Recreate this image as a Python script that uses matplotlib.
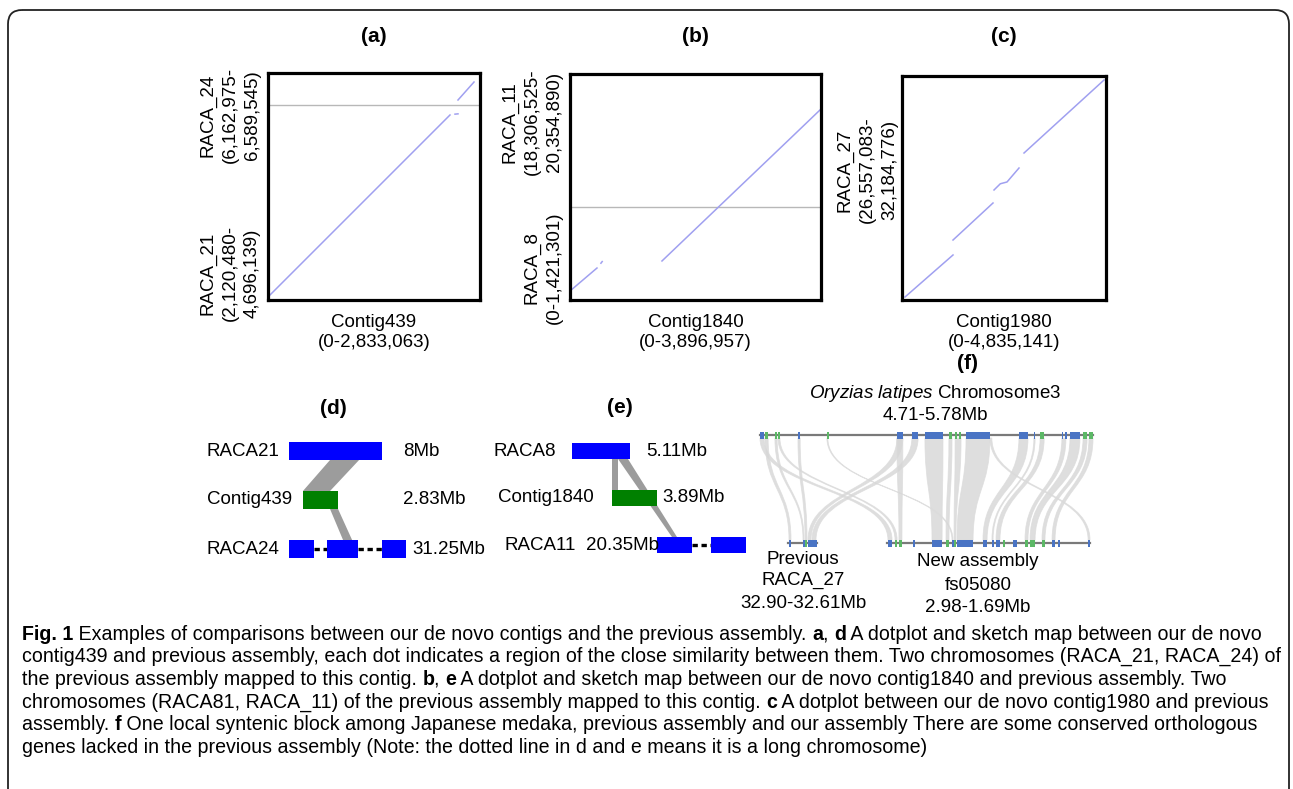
import numpy as np
import matplotlib
matplotlib.use('Agg')
import matplotlib.pyplot as plt
from matplotlib.patches import FancyBboxPatch, Rectangle, Polygon, PathPatch
from matplotlib.path import Path

plt.rcParams['font.family'] = ['Liberation Sans', 'DejaVu Sans']
plt.rcParams['mathtext.fontset'] = 'custom'
plt.rcParams['mathtext.rm'] = 'Liberation Sans'
plt.rcParams['mathtext.it'] = 'Liberation Sans:italic'
plt.rcParams['mathtext.bf'] = 'Liberation Sans:bold'

W, H = 1293, 789
FS = 13.5
FS_TITLE = 15

# ---------------- dotplot data (bp) ----------------
# (a) contig439 vs RACA_21 + RACA_24
a_contig = ('Contig439', 2833063)
a_chroms = ['RACA_21', 'RACA_24']
a_spans = [(2120480, 4696139), (6162975, 6589545)]
a_segs = [([0, 2432000], [40000, 2447000]),
          ([2499000, 2539000], [2458000, 2462000]),
          ([2539000, 2753000], [2645000, 2883000])]

# (b) contig1840 vs RACA_8 + RACA_11
b_contig = ('Contig1840', 3896957)
b_chroms = ['RACA_8', 'RACA_11']
b_spans = [(0, 1421301), (18306525, 20354890)]
b_segs = [([0, 419000], [138000, 491000]),
          ([480000, 500000], [565000, 590000]),
          ([1428000, 3420000, 3881000], [599000, 2480000, 2917000])]

# (c) contig1980 vs RACA_27
c_contig = ('Contig1980', 4835141)
c_chroms = ['RACA_27']
c_spans = [(26557083, 32184776)]
c_segs = [([71000, 1209000], [75000, 1131000]),
          ([1209000, 2157000], [1507000, 2437000]),
          ([2181000, 2330000, 2489000, 2773000], [2764000, 2920000, 2965000, 3316000]),
          ([2892000, 4788000], [3693000, 5527000])]

# ---------------- sketch maps (Mb, schematic) ----------------
d_rows = ['RACA21', 'Contig439', 'RACA24']
d_sizes = ['8Mb', '2.83Mb', '31.25Mb']
d_blocks = [[(0, 8.0)], [(1.2, 4.2)], [(0, 2.15), (3.27, 5.95), (8.0, 10.1)]]
d_links = [((3.53, 6.03), 0, (1.2, 3.53), 1),
           ((3.53, 4.22), 1, (4.65, 5.43), 2)]

e_rows = ['RACA8', 'Contig1840', 'RACA11']
e_sizes = ['5.11Mb', '3.89Mb', '20.35Mb']
e_blocks = [[(0, 5.11)], [(3.51, 7.46)], [(7.46, 10.5), (12.2, 15.3)]]
e_links = [((3.51, 4.04), 0, (3.51, 4.04), 1),
           ((4.04, 4.91), 0, (8.77, 9.21), 2)]

# ---------------- synteny block (f) ----------------
f_ranges = {'top': (4.71, 5.78), 'prev': (32.90, 32.61), 'new': (2.98, 1.69)}
# genes: (start, end, kind) kind 0 = blue, 1 = green
f_top_genes = [(4.710, 4.723, 0), (4.726, 4.736, 1), (4.758, 4.765, 1), (4.768, 4.774, 1),
               (4.832, 4.839, 0), (4.925, 4.928, 1), (5.150, 5.169, 0), (5.198, 5.218, 0),
               (5.240, 5.298, 0), (5.317, 5.327, 1), (5.337, 5.340, 1), (5.349, 5.356, 1),
               (5.372, 5.449, 0), (5.542, 5.571, 0), (5.590, 5.594, 0), (5.610, 5.623, 1),
               (5.680, 5.684, 0), (5.690, 5.693, 0), (5.706, 5.738, 0), (5.748, 5.761, 1),
               (5.767, 5.780, 1)]
f_prev_genes = [(32.89, 32.87, 0), (32.75, 32.74, 0), (32.73, 32.71, 1),
                (32.70, 32.67, 0), (32.67, 32.61, 0)]
f_new_genes = [(2.974, 2.948, 0), (2.929, 2.916, 1), (2.904, 2.885, 1), (2.815, 2.808, 0),
               (2.694, 2.630, 0), (2.605, 2.586, 1), (2.567, 2.561, 0), (2.554, 2.542, 1),
               (2.535, 2.433, 0), (2.370, 2.344, 0), (2.313, 2.306, 0), (2.287, 2.262, 0),
               (2.243, 2.236, 1), (2.179, 2.173, 0), (2.167, 2.160, 0), (2.103, 2.084, 1),
               (2.071, 2.039, 1), (1.995, 1.976, 1), (1.931, 1.912, 0), (1.893, 1.887, 0),
               (1.702, 1.690, 0)]
f_links = [(5.240, 5.298, 'new', 2.694, 2.630), (5.372, 5.449, 'new', 2.535, 2.433),
           (4.710, 4.723, 'new', 2.974, 2.948), (4.726, 4.736, 'prev', 32.89, 32.87),
           (4.758, 4.765, 'prev', 32.75, 32.74), (4.768, 4.774, 'new', 2.929, 2.916),
           (4.832, 4.839, 'prev', 32.73, 32.71), (4.925, 4.928, 'new', 2.567, 2.561),
           (5.150, 5.169, 'prev', 32.70, 32.67), (5.198, 5.218, 'prev', 32.66, 32.62),
           (5.150, 5.169, 'new', 2.904, 2.885), (5.317, 5.327, 'new', 2.605, 2.586),
           (5.337, 5.356, 'new', 2.554, 2.542), (5.542, 5.571, 'new', 2.370, 2.344),
           (5.590, 5.594, 'new', 2.313, 2.306), (5.610, 5.623, 'new', 2.287, 2.262),
           (5.680, 5.693, 'new', 2.103, 2.084), (5.706, 5.738, 'new', 2.071, 2.039),
           (5.748, 5.761, 'new', 1.995, 1.976), (5.767, 5.780, 'new', 1.931, 1.912),
           (5.449, 5.455, 'new', 1.702, 1.690)]

# ** marks bold pieces
caption = [
    "**Fig. 1** Examples of comparisons between our de novo contigs and the previous assembly. **a**, **d** A dotplot and sketch map between our de novo",
    "contig439 and previous assembly, each dot indicates a region of the close similarity between them. Two chromosomes (RACA_21, RACA_24) of",
    "the previous assembly mapped to this contig. **b**, **e** A dotplot and sketch map between our de novo contig1840 and previous assembly. Two",
    "chromosomes (RACA81, RACA_11) of the previous assembly mapped to this contig. **c** A dotplot between our de novo contig1980 and previous",
    "assembly. **f** One local syntenic block among Japanese medaka, previous assembly and our assembly There are some conserved orthologous",
    "genes lacked in the previous assembly (Note: the dotted line in d and e means it is a long chromosome)",
]

BLUE, GREEN = '#0000ff', '#008000'
F_COL = ['#4a74c4', '#5cb866']

fig = plt.figure(figsize=(W / 100, H / 100), dpi=100)
bg = fig.add_axes([0, 0, 1, 1])
bg.set_xlim(0, W)
bg.set_ylim(H, 0)
bg.axis('off')


def px_axes(x0, y0, x1, y1):
    return fig.add_axes([x0 / W, 1 - y1 / H, (x1 - x0) / W, (y1 - y0) / H])


# outer frame
bg.add_patch(FancyBboxPatch((8, 10), 1281, 820, boxstyle='round,pad=0,rounding_size=14',
                            fc='none', ec='#222222', lw=1.3))


def fmt(n):
    return f'{n:,}'


def dotplot(box, contig, spans, segs):
    ax = px_axes(*box)
    lens = [e - s for s, e in spans]
    ax.set_xlim(0, contig[1])
    ax.set_ylim(0, sum(lens))
    for b in np.cumsum(lens)[:-1]:
        ax.axhline(b, color='#b8b8b8', lw=1)
    for xs, ys in segs:
        ax.plot(xs, ys, color='#a0a0f0', lw=1.1)
    ax.set_xticks([])
    ax.set_yticks([])
    for s in ax.spines.values():
        s.set_linewidth(2.3)
    return ax


dot_panels = [('(a)', (268, 73, 480, 300), a_contig, a_chroms, a_spans, a_segs, 261, [273, 115]),
              ('(b)', (570, 74, 821, 300), b_contig, b_chroms, b_spans, b_segs, 563, [268, 122]),
              ('(c)', (902, 76, 1106, 300), c_contig, c_chroms, c_spans, c_segs, 898, [170])]
for title, box, contig, chroms, spans, segs, lab_x, lab_y in dot_panels:
    dotplot(box, contig, spans, segs)
    cx = (box[0] + box[2]) / 2
    bg.text(cx, 36, title, ha='center', va='center', fontsize=FS_TITLE, fontweight='bold')
    bg.text(cx, 322, contig[0], ha='center', va='center', fontsize=FS)
    bg.text(cx, 342, f'(0-{fmt(contig[1])})', ha='center', va='center', fontsize=FS)
    for name, (s, e), yy in zip(chroms, spans, lab_y):
        if s == 0:
            lab = f'{name}\n({s}-{fmt(e)})'
        else:
            lab = f'{name}\n({fmt(s)}-\n{fmt(e)})'
        bg.text(lab_x, yy, lab, rotation=90, ha='right', va='center', multialignment='center',
                fontsize=FS, linespacing=1.4)


def sketch(box, xmax, rows, sizes, blocks, links, bar_h, name_x, size_x, title, title_xy):
    ax = px_axes(*box)
    ax.set_xlim(0, xmax)
    ax.set_ylim(2.5, -0.5)
    ax.axis('off')
    ax.patch.set_alpha(0)
    for (a0, a1), r1, (b0, b1), r2 in links:
        ax.add_patch(Polygon([(a0, r1 + bar_h / 2), (a1, r1 + bar_h / 2),
                              (b1, r2 - bar_h / 2), (b0, r2 - bar_h / 2)],
                             closed=True, fc='#9c9c9c', ec='none', zorder=1))
    for r, blk in enumerate(blocks):
        col = GREEN if r == 1 else BLUE
        for i, (s, e) in enumerate(blk):
            ax.add_patch(Rectangle((s, r - bar_h / 2), e - s, bar_h, fc=col, ec='none', zorder=3))
            if i > 0:
                ax.plot([blk[i - 1][1], s], [r, r], color='black', lw=2.4,
                        ls=(0, (1.6, 1.1)), zorder=2)
    for r, (name, sz) in enumerate(zip(rows, sizes)):
        ax.text(name_x[r], r, name, ha='left', va='center', fontsize=FS, clip_on=False)
        ax.text(size_x[r], r, sz, ha='left', va='center', fontsize=FS, clip_on=False)
    bg.text(*title_xy, title, ha='center', va='center', fontsize=FS_TITLE, fontweight='bold')


sketch((289, 426.5, 406.4, 573.5), 10.1, d_rows, d_sizes, d_blocks, d_links, 0.367,
       [-7.07, -7.07, -7.07], [9.83, 9.83, 10.6], '(d)', (333, 408))
sketch((572, 427.5, 746.4, 568.5), 15.3, e_rows, e_sizes, e_blocks, e_links, 0.34,
       [-6.9, -6.5, -5.9], [6.5, 7.9, 1.23], '(e)', (620, 407))

# ---------------- panel f ----------------
track_px = {'top': (760, 1093, 435), 'prev': (788, 817, 543), 'new': (887, 1090, 543)}


def fx(track, mb):
    a, b = f_ranges[track]
    x0, x1, _ = track_px[track]
    return x0 + (mb - a) / (b - a) * (x1 - x0)


yt, yb = track_px['top'][2] + 3, track_px['new'][2] - 3
ym = (yt + yb) / 2
for s0, s1, trk, t0, t1 in f_links:
    xa0, xa1 = fx('top', s0), fx('top', s1)
    xb0, xb1 = fx(trk, t0), fx(trk, t1)
    verts = [(xa0, yt), (xa0, ym), (xb0, ym), (xb0, yb), (xb1, yb),
             (xb1, ym), (xa1, ym), (xa1, yt), (xa0, yt)]
    codes = [Path.MOVETO, Path.CURVE4, Path.CURVE4, Path.CURVE4, Path.LINETO,
             Path.CURVE4, Path.CURVE4, Path.CURVE4, Path.CLOSEPOLY]
    bg.add_patch(PathPatch(Path(verts, codes), fc='#d6d6d6', ec='#dcdcdc', lw=0.6,
                           alpha=0.8, zorder=1))

for trk, genes in [('top', f_top_genes), ('prev', f_prev_genes), ('new', f_new_genes)]:
    x0, x1, y = track_px[trk]
    bg.plot([x0, x1], [y, y], color='#7a7a7a', lw=1.6, zorder=2)
    for s, e, k in genes:
        xs, xe = sorted([fx(trk, s), fx(trk, e)])
        bg.add_patch(Rectangle((xs, y - 3.5), max(xe - xs, 1.6), 7, fc=F_COL[k], ec='none', zorder=3))

bg.text(968, 363, '(f)', ha='center', va='center', fontsize=FS_TITLE, fontweight='bold')
bg.text(935, 393, r'$\mathit{Oryzias\ latipes}$ Chromosome3', ha='center', va='center', fontsize=FS)
bg.text(935, 415, '4.71-5.78Mb', ha='center', va='center', fontsize=FS)
for yy, s in zip([559, 580, 603], ['Previous', 'RACA_27', '32.90-32.61Mb']):
    bg.text(803, yy, s, ha='center', va='center', fontsize=FS)
for yy, s in zip([562, 585, 607], ['New assembly', 'fs05080', '2.98-1.69Mb']):
    bg.text(978, yy, s, ha='center', va='center', fontsize=FS)

# ---------------- caption ----------------
renderer = fig.canvas.get_renderer()
probe = [bg.text(0, 0, s.replace('**', ''), fontsize=13) for s in caption]
widest = max(t.get_window_extent(renderer).width for t in probe)
for t in probe:
    t.remove()
cap_fs = 13 * 1250 / widest

for i, line in enumerate(caption):
    prev = None
    for j, p in enumerate(line.split('**')):
        if not p:
            continue
        wgt = 'bold' if j % 2 == 1 else 'normal'
        if prev is None:
            prev = bg.text(22, 634 + i * 22.7, p, ha='left', va='center',
                           fontsize=cap_fs, fontweight=wgt)
        else:
            prev = bg.annotate(p, xy=(1, 0), xycoords=prev, ha='left', va='bottom',
                               fontsize=cap_fs, fontweight=wgt)

fig.savefig('out.png', dpi=100)
